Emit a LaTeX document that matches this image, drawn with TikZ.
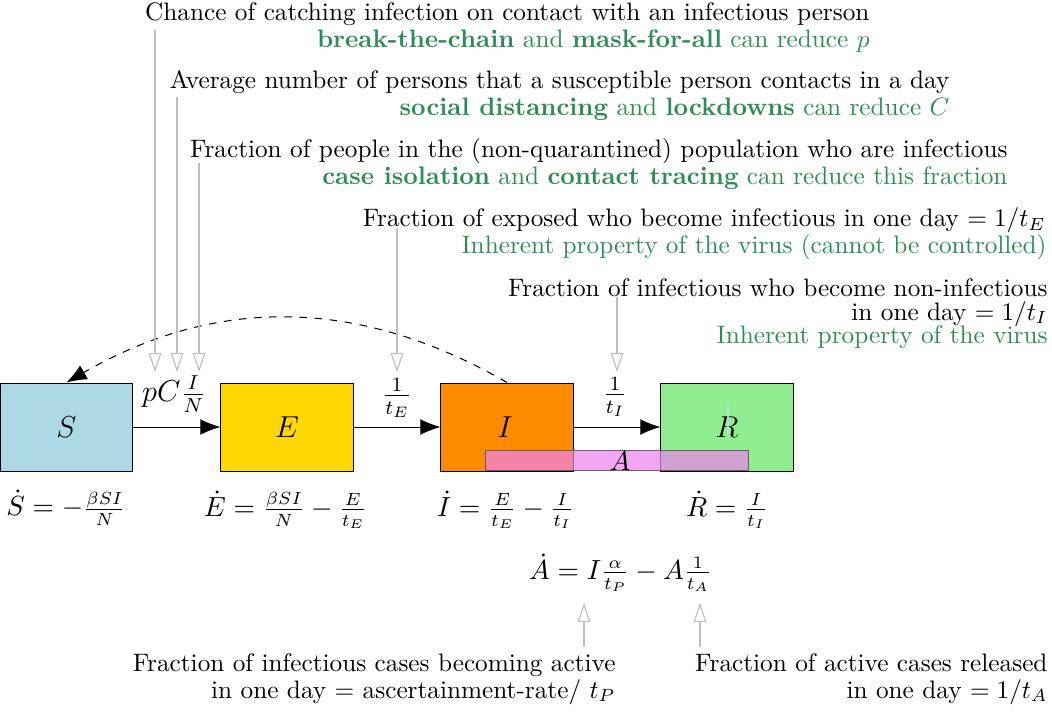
\documentclass[tikz,border=0pt]{standalone}
\usetikzlibrary{arrows.meta}
\definecolor{cS}{RGB}{173,216,230}
\definecolor{cE}{RGB}{255,215,0}
\definecolor{cI}{RGB}{255,140,0}
\definecolor{cR}{RGB}{144,238,144}
\definecolor{cA}{RGB}{238,130,238}
\definecolor{sgreen}{RGB}{46,139,87}
\definecolor{gline}{RGB}{190,190,190}
\begin{document}
\begin{tikzpicture}[x=0.396pt,y=-0.396pt,
  compbox/.style={draw=black,minimum width=52.3pt,minimum height=34.85pt,inner sep=0pt,font=\large},
  txt/.style={anchor=base east,inner sep=0pt},
  gtxt/.style={txt,text=sgreen},
  flow/.style={-{Latex[length=8pt,width=6.3pt]}},
  grayarr/.style={draw=gline,line width=0.45pt,-{Triangle[open,length=7.5pt,width=5pt]}},
  eq/.style={inner sep=0pt,font=\fontsize{10.7}{13}\selectfont},
  lab/.style={inner sep=0pt,font=\large}]
\useasboundingbox (0,0) rectangle (1052,715);

% compartments
\node[compbox,fill=cS] (S) at (66.5,427) {$S$};
\node[compbox,fill=cE] (E) at (287,427) {$E$};
\node[compbox,fill=cI] (I) at (507,427) {\hspace*{-1.5pt}$I$};
\node[compbox,fill=cR] (R) at (727,427) {$R$};
\node[draw=black!70,fill=cA,fill opacity=0.7,draw opacity=0.8,text opacity=1,
      minimum width=104.5pt,minimum height=8.3pt,inner sep=0pt] (A) at (617,460.5) {};
\node[eq] (Alab) at (620,461) {$A$};

% flows
\draw[flow] (S) -- (E);
\draw[flow] (E) -- (I);
\draw[flow] (I) -- (R);
\draw[dashed,flow] (I.north) to[bend right=30] (S.north);
\node[lab] (lSE) at (174,394) {$pC\frac{I}{N}$};
\node[lab] (lEI) at (397,398) {$\frac{1}{t_E}$};
\node[lab] (lIR) at (615,397) {$\frac{1}{t_I}$};

% faint mark in R
\coordinate (rm1) at (727.5,404);
\coordinate (rm2) at (727.5,436);
\draw[cS!80!white,line width=0.8pt,opacity=0.8] (rm1) -- (rm2);

% equations
\node[eq] (eS) at (66,508) {$\dot S = -\frac{\beta SI}{N}$};
\node[eq] (eE) at (285.5,510) {$\dot E = \frac{\beta SI}{N} - \frac{E}{t_E}$};
\node[eq] (eI) at (505.5,510) {$\dot I = \frac{E}{t_E} - \frac{I}{t_I}$};
\node[eq] (eR) at (727,510) {$\dot R = \frac{I}{t_I}$};
\node[eq] (eA) at (620.5,573) {$\dot A = I\frac{\alpha}{t_P} - A\frac{1}{t_A}$};

% top annotations
\node[txt] (t1) at (870,20) {Chance of catching infection on contact with an infectious person};
\node[gtxt] (t2) at (870,47) {\textbf{break-the-chain} and \textbf{mask-for-all} can reduce $p$};
\node[txt] (t3) at (950,88) {Average number of persons that a susceptible person contacts in a day};
\node[gtxt] (t4) at (950,115) {\textbf{social distancing} and \textbf{lockdowns} can reduce $C$};
\node[txt] (t5) at (1008,157) {Fraction of people in the (non-quarantined) population who are infectious};
\node[gtxt] (t6) at (1008,184) {\textbf{case isolation} and \textbf{contact tracing} can reduce this fraction};
\node[txt] (t7) at (1046,226.5) {Fraction of exposed who become infectious in one day $=1/t_E$};
\node[gtxt] (t8) at (1047,253) {Inherent property of the virus (cannot be controlled)};
\node[txt] (t9) at (1048,296.5) {Fraction of infectious who become non-infectious};
\node[txt] (t10) at (1048,320) {in one day $=1/t_I$};
\node[gtxt] (t11) at (1048,343) {Inherent property of the virus};

% bottom annotations
\node[txt] (b1) at (616,671.5) {Fraction of infectious cases becoming active};
\node[txt] (b2) at (616,698) {in one day $=$ ascertainment-rate/ $t_P$};
\node[txt] (b3) at (1048,671.5) {Fraction of active cases released};
\node[txt] (b4) at (1048,698) {in one day $=1/t_A$};

% gray pointers
\coordinate (g1a) at (155,30);  \coordinate (g1b) at (155,372);
\coordinate (g2a) at (177,97);  \coordinate (g2b) at (177,372);
\coordinate (g3a) at (199,163); \coordinate (g3b) at (199,372);
\coordinate (g4a) at (397,228); \coordinate (g4b) at (397,372);
\coordinate (g5a) at (617,297); \coordinate (g5b) at (617,372);
\coordinate (g6a) at (584,647); \coordinate (g6b) at (584,603);
\coordinate (g7a) at (700,647); \coordinate (g7b) at (700,603);
\draw[grayarr] (g1a) -- (g1b);
\draw[grayarr] (g2a) -- (g2b);
\draw[grayarr] (g3a) -- (g3b);
\draw[grayarr] (g4a) -- (g4b);
\draw[grayarr] (g5a) -- (g5b);
\draw[grayarr] (g6a) -- (g6b);
\draw[grayarr] (g7a) -- (g7b);
\end{tikzpicture}
\end{document}
